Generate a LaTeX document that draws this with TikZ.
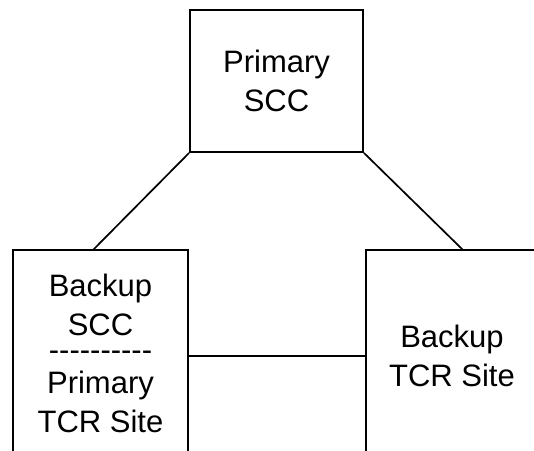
\documentclass[tikz,border=0pt]{standalone}
\usepackage{fontspec}
\setmainfont{Liberation Sans}
\begin{document}
\begin{tikzpicture}[x=1pt,y=-1pt,
  box/.style={draw, line width=1.8pt, inner sep=0pt, align=center,
    font=\fontsize{31}{39}\selectfont},
  link/.style={line width=1.7pt}]
\useasboundingbox (0,0) rectangle (534,450);
\clip (0,0) rectangle (534,450);
\node[box, minimum width=173pt, minimum height=142pt] (top) at (276.5,81) {Primary\\SCC};
\node[box, minimum width=175pt, minimum height=212pt] (left) at (100.5,356)
  {Backup\\SCC\\[-14pt]-{}-{}-{}-{}-{}-{}-{}-{}-{}-\\[-6pt]Primary\\TCR Site\rule[-5pt]{0pt}{5pt}};
\node[box, minimum width=172pt, minimum height=212pt] (right) at (452,356) {Backup\\TCR Site};
\coordinate (lend) at (93,250);
\coordinate (rend) at (463,250);
\draw[link] (top.south west) -- (lend);
\draw[link] (top.south east) -- (rend);
\draw[link] (left) -- (right);
\end{tikzpicture}
\end{document}
